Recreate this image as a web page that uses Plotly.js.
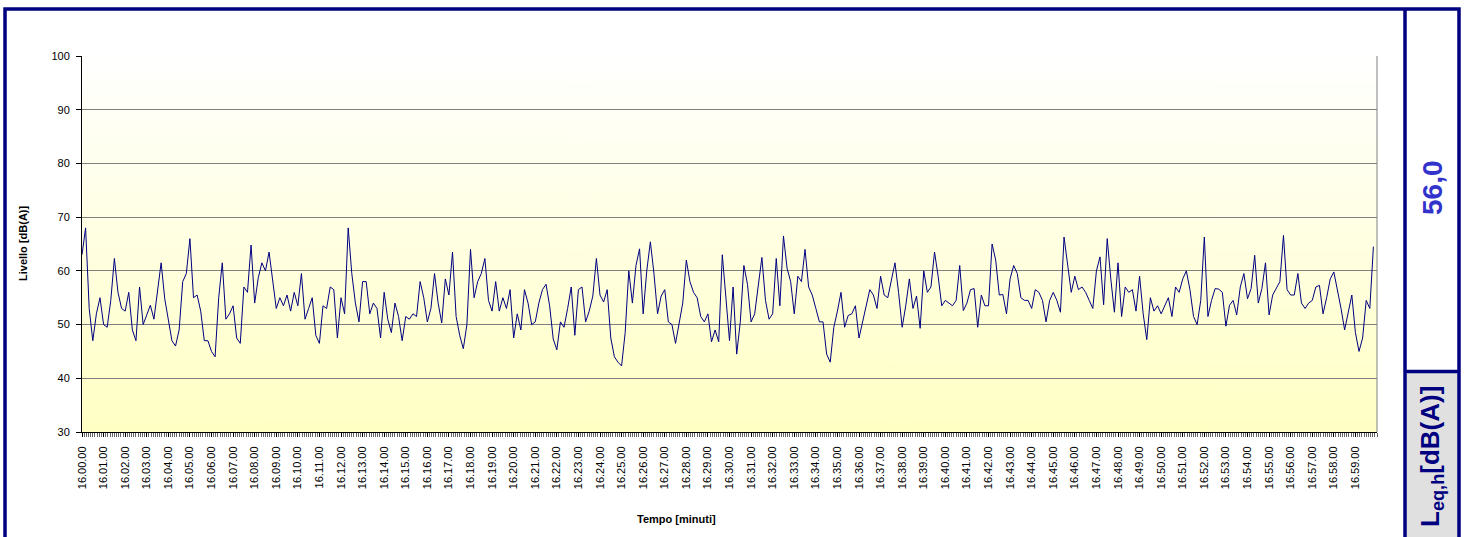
<!DOCTYPE html>
<html>
<head>
<meta charset="utf-8">
<script src="https://cdn.plot.ly/plotly-3.0.1.min.js"></script>
<style>
html,body{margin:0;padding:0;background:#ffffff;}
#chart{width:1467px;height:537px;}
</style>
</head>
<body>
<div id="chart"></div>
<script>
// ---- data (one reading every 10 seconds, dB(A)) ----
const sampleStepSeconds = 10;
const startHour = 16;

const levels_1600_1609 = [63,68,53,47,52,55,50,49.5,54.5,62.3,56,53,52.5,56,49,47,57,50,51.8,53.6,51,56,61.5,54.8,51,47,46,49,58,59.5,66,55,55.5,52.5,47,47,45,44,55,61.5,51,52,53.5,47.5,46.5,57,56,64.8,54,58.7,61.5,60,63.5,58.5,53,55,53.5,55.5,52.5,56];
const levels_1610_1619 = [53.5,59.5,51,53,55,48,46.5,53.5,53,57,56.5,47.5,55,52,68,59.5,54,50.5,58,58,52,54,53,47.5,56,51,48.5,54,51.5,47,51.5,51,52,51.5,58,55,50.5,53,59.5,54,50.3,58.5,55.5,63.5,51.5,48,45.5,50,64,55,58,59.5,62.3,54.5,52.5,58,52.5,55,53,56.5];
const levels_1620_1629 = [47.5,52,49,56.5,54,50,50.5,54,56.5,57.5,53.5,47.3,45.3,50.5,49.5,53,57,48,56.5,57,50.5,52.5,55.3,62.3,55.5,54.2,56.5,47.5,44,43,42.3,48.5,60,54,61,64.1,52,60,65.4,59.5,52,55.3,56.5,50.5,50,46.5,50.5,54,62,58,56,55,51.5,50.5,52,46.8,49,46.8,63,55.5];
const levels_1630_1639 = [47,57,44.5,50.5,61,57.5,50.5,52,57,62.5,54.5,51,52,62.3,53.5,66.5,60.5,58,52,59,58,64,57,55.5,53,50.5,50.5,44.5,43,49.5,52.5,56,49.5,51.7,52,53.5,47.5,50.5,54,56.5,55.5,53,59,55.5,55,58,61.5,56,49.5,53.5,58.5,53,55.3,49.3,60,56,57,63.5,59,53.5];
const levels_1640_1649 = [54.5,54,53.5,54.5,61,52.6,54,56.5,56.7,49.5,55.5,53.5,53.5,65,62,55.5,55.6,52,58.5,61,59.5,55,54.5,54.5,53,56.5,56,54.5,50.5,54.5,56,54.5,52.3,66.3,61,56,59,56.5,57,56,54.5,53,60,62.6,53.7,66,58.5,52.3,61.5,51.5,57,56,56.5,52.5,59,52,47.2,55,52.5,53.5];
const levels_1650_1659 = [52,53.5,55,51.5,57,56,58.5,60,56.5,51.5,50,54.5,66.3,51.5,54.5,56.7,56.6,56,49.7,53.6,54.5,51.8,57,59.5,54.8,56.7,62.9,54,56.7,61.5,51.8,55.5,56.7,58,66.6,56.5,55.5,55.5,59.5,54,53,54,54.5,57,57.3,52,55,58.5,59.8,56.5,53,49,52.5,55.5,48.5,45,47.5,54.5,53,64.5];

const leqText = "56,0";
const minutesShown = 60;

// ---- build series ----
const levels = [].concat(levels_1600_1609, levels_1610_1619, levels_1620_1629,
                         levels_1630_1639, levels_1640_1649, levels_1650_1659);
const seconds = levels.map((v, i) => i * sampleStepSeconds);

const tickVals = [], tickText = [];
for (let m = 0; m < minutesShown; m++) {
  tickVals.push(m * 60);
  tickText.push(startHour + "." + String(m).padStart(2, "0") + ".00");
}

// ---- pixel helpers for the frame ----
const W = 1467, H = 537;
const L = 82, R = 1377, T = 56, B = 432;
const px = x => (x - L) / (R - L);
const py = y => (B - y) / (B - T);

// gradient background image
const cv = document.createElement("canvas");
cv.width = 4; cv.height = 256;
const cx = cv.getContext("2d");
const g = cx.createLinearGradient(0, 0, 0, 256);
g.addColorStop(0, "#FFFFFF");
g.addColorStop(1, "#FFFFC4");
cx.fillStyle = g; cx.fillRect(0, 0, 4, 256);
const bgSrc = cv.toDataURL("image/png");

const FONT = "Liberation Sans, Arial, sans-serif";
const NAVY = "#000080";

const trace = {
  x: seconds, y: levels, type: "scatter", mode: "lines",
  line: {color: NAVY, width: 1}, hoverinfo: "skip", showlegend: false
};

const layout = {
  width: W, height: H,
  margin: {l: L, r: W - R, t: T, b: H - B, pad: 0},
  paper_bgcolor: "#ffffff",
  plot_bgcolor: "rgba(0,0,0,0)",
  font: {family: FONT, size: 11, color: "#000"},
  showlegend: false,
  xaxis: {
    range: [0, minutesShown * 60], tickmode: "array", tickvals: tickVals, ticktext: tickText,
    tickangle: -90, ticks: "outside", ticklen: 4, tickcolor: "#000", tickwidth: 1,
    ticklabelstandoff: 5,
    tickfont: {family: FONT, size: 11, color: "#000"},
    showline: true, linecolor: "#000", linewidth: 1, showgrid: false, zeroline: false,
    minor: {tickmode: "linear", tick0: 0, dtick: 6, ticks: "outside", ticklen: 4, tickcolor: "#666", tickwidth: 1, showgrid: false},
    fixedrange: true
  },
  yaxis: {
    range: [30, 100], tickmode: "linear", tick0: 0, dtick: 10,
    ticks: "outside", ticklen: 5, tickcolor: "#000", ticklabelstandoff: 4,
    tickfont: {family: FONT, size: 11, color: "#000"},
    showline: true, linecolor: "#000", linewidth: 1,
    showgrid: true, gridcolor: "#808080", gridwidth: 1, zeroline: false, fixedrange: true
  },
  images: [{source: bgSrc, xref: "paper", yref: "paper", x: 0, y: 1, sizex: 1, sizey: 1,
            sizing: "stretch", layer: "below", xanchor: "left", yanchor: "top"}],
  shapes: [
    // plot area right border
    {type: "line", xref: "paper", yref: "paper", x0: 1, x1: 1, y0: 0, y1: 1, line: {color: "#808080", width: 1}},
    // grey label box
    {type: "rect", xref: "paper", yref: "paper", x0: px(1406), x1: px(1458), y0: py(372), y1: py(560),
     fillcolor: "#E0E0E0", line: {width: 0}},
    // outer frame
    {type: "rect", xref: "paper", yref: "paper", x0: px(5), x1: px(1459), y0: py(9), y1: py(580),
     line: {color: NAVY, width: 3.5}},
    // vertical divider
    {type: "line", xref: "paper", yref: "paper", x0: px(1405), x1: px(1405), y0: py(9), y1: py(580),
     line: {color: NAVY, width: 3.5}},
    // horizontal divider
    {type: "line", xref: "paper", yref: "paper", x0: px(1405), x1: px(1459), y0: py(371.5), y1: py(371.5),
     line: {color: NAVY, width: 3.5}}
  ],
  annotations: [
    {text: "<b>Livello [dB(A)]</b>", xref: "paper", yref: "paper", x: px(23), y: 0.5,
     textangle: -90, showarrow: false, xanchor: "center", yanchor: "middle",
     font: {family: FONT, size: 11, color: "#000"}},
    {text: "<b>Tempo [minuti]</b>", xref: "paper", yref: "paper", x: px(676), y: py(519),
     showarrow: false, xanchor: "center", yanchor: "middle",
     font: {family: FONT, size: 11, color: "#000"}},
    {text: "<b>" + leqText + "</b>", xref: "paper", yref: "paper", x: px(1432), y: py(188),
     textangle: -90, showarrow: false, xanchor: "center", yanchor: "middle",
     font: {family: FONT, size: 28, color: "#3333CC"}},
    {text: "<b>L<sub>eq,h</sub>[dB(A)]</b>", xref: "paper", yref: "paper", x: px(1431), y: py(457),
     textangle: -90, showarrow: false, xanchor: "center", yanchor: "middle",
     font: {family: FONT, size: 26, color: NAVY}}
  ]
};

Plotly.newPlot("chart", [trace], layout, {displayModeBar: false, staticPlot: true});
</script>
</body>
</html>
